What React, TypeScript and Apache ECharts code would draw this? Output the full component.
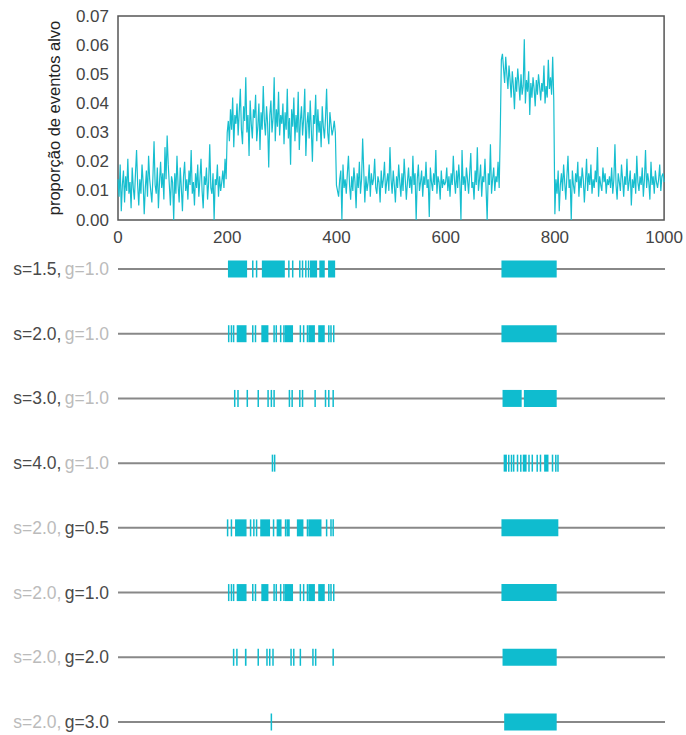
import React, { useEffect, useRef } from "react";
import * as echarts from "echarts";

// proportion of target events, in thousandths, one value every 2 steps
const baseline1 = [
  14,8,19,3,12,17,6,15,10,21, 9,13,4,18,11,7,16,24,12,5, 14,9,19,13,2,11,17,8,22,14, 10,6,15,27,12,9,18,4,13,20, 11,16,7,25,14,29,19,12,5,15,
  13,0,16,9,22,12,6,18,11,3, 15,20,10,14,7,17,12,24,9,13, 5,16,11,19,8,14,21,10,4,15, 12,18,7,13,26,11,9,16,0,14, 12,19,8,15,10,13,17,11,21,14,
];
const burst1 = [
  30,34,27,38,31,42,25,36,33,40, 29,37,45,31,26,39,34,49,30,36, 22,41,33,28,38,35,43,27,32,40, 24,37,31,46,34,29,39,33,18,36, 41,30,35,49,27,38,32,44,29,36,
  33,40,26,37,31,45,28,35,19,38, 32,42,27,36,30,44,24,34,39,29, 35,45,22,33,37,28,41,31,20,36, 33,43,27,38,30,34,25,39,32,28, 35,45,30,26,37,33,29,31,34,30,
];
const baseline2 = [
  12,10,8,14,17,0,19,11,14,9, 16,22,12,7,15,10,18,13,4,16, 11,20,9,14,28,17,6,15,10,13, 19,8,16,12,14,21,11,9,15,13, 6,17,11,14,20,9,13,16,10,25,
  14,9,17,12,6,15,11,19,13,8, 16,10,21,14,7,13,18,11,15,9, 22,12,16,0,14,19,10,13,17,8, 15,12,20,11,14,1,18,13,10,16, 12,24,9,15,13,7,17,11,14,12,
  13,18,10,15,8,16,12,22,14,9, 17,11,19,13,0,24,12,15,10,18, 14,9,16,23,11,13,7,17,12,25, 10,14,19,8,15,13,21,11,0,16, 12,26,9,14,18,10,15,13,20,11,
];
const burst2 = [
  30,55,57,52,47,56,50,45,53,48, 42,51,46,38,49,44,52,47,41,50, 43,46,62,40,48,44,51,36,47,42, 49,45,39,48,43,50,46,41,47,44, 53,40,46,42,55,45,49,43,56,41,
];
const baseline3 = [
  2,14,9,17,3,12,16,10,19,13, 7,15,22,11,14,0,17,12,9,16, 13,20,8,15,11,18,14,6,13,21, 10,16,12,19,9,14,11,17,13,25, 8,15,12,10,18,13,16,9,14,12,
  15,11,18,9,14,26,12,7,16,13, 10,19,14,8,15,12,21,10,13,17, 5,14,11,16,9,22,13,10,15,12, 18,8,14,24,11,16,13,7,20,12, 15,9,17,13,11,14,19,10,15,16, 13,
];

const yTicks = [0, 0.01, 0.02, 0.03, 0.04, 0.05, 0.06, 0.07];
const xTicks = [0, 200, 400, 600, 800, 1000];

// row labels
const sLabels = ["s=1.5", "s=2.0", "s=3.0", "s=4.0", "s=2.0", "s=2.0", "s=2.0", "s=2.0"];
const gLabels = ["g=1.0", "g=1.0", "g=1.0", "g=1.0", "g=0.5", "g=1.0", "g=2.0", "g=3.0"];

// detected burst intervals [start, end] per row
const row0 = [[201,236],[245,246],[252,253],[263,305],[311,313],[318,320],[331,332],[336,337],[342,343],[347,348],[351,364],[368,378],[384,397],[701,802]];
const row1 = [[201,202],[206,207],[210,212],[217,235],[245,246],[250,251],[262,275],[284,285],[288,290],[296,297],[302,303],[305,320],[332,333],[338,339],[345,346],[348,360],[366,378],[384,385],[388,389],[393,394],[701,802]];
const row2 = [[212,213],[218,219],[235,236],[255,256],[273,274],[279,280],[284,285],[312,314],[317,319],[331,332],[336,337],[359,360],[378,379],[384,385],[392,393],[703,738],[742,802]];
const row3 = [[281,282],[285,286],[705,711],[713,714],[718,719],[722,724],[729,730],[735,736],[740,747],[750,751],[756,757],[765,766],[771,772],[779,787],[793,794],[799,800],[803,804]];
const row4 = [[199,200],[206,207],[214,235],[241,242],[247,248],[252,253],[260,278],[283,284],[290,299],[305,306],[308,314],[327,339],[345,346],[348,372],[380,381],[388,389],[392,393],[701,805]];
const row5 = [[201,202],[206,207],[210,212],[217,235],[245,246],[250,251],[262,275],[284,285],[288,290],[296,297],[302,303],[305,320],[332,333],[338,339],[345,346],[348,360],[366,378],[384,385],[388,389],[393,394],[701,802]];
const row6 = [[210,212],[216,218],[232,235],[255,256],[271,272],[276,277],[282,283],[315,316],[320,321],[332,333],[355,356],[360,361],[392,394],[703,802]];
const row7 = [[279,280],[706,802]];

const rows = [row0, row1, row2, row3, row4, row5, row6, row7];

const FONT = "'Liberation Sans', Arial, sans-serif";
const CYAN = "#17becf";
const BAR = "#0fbccf";

export default function App() {
  const ref = useRef<HTMLDivElement>(null);
  useEffect(() => {
    if (!ref.current) return;
    const chart = echarts.init(ref.current, null, { renderer: "svg" });
    const signal = [...baseline1, ...burst1, ...baseline2, ...burst2, ...baseline3];
    const lineData = signal.map((v, i) => [i * 2, v / 1000]);
    const segData: number[][] = [];
    rows.forEach((r, ri) => r.forEach(([s, e]) => segData.push([ri, s, e])));
    const rowData = rows.map((_, ri) => [ri]);

    chart.setOption({
      animation: false,
      backgroundColor: "#fff",
      grid: [
        { left: 118, right: 21, top: 16, height: 204, show: true, borderColor: "#555", borderWidth: 1.5, backgroundColor: "transparent" },
        { left: 118, right: 21, top: 269, height: 453 },
      ],
      xAxis: [
        {
          gridIndex: 0, type: "value", min: xTicks[0], max: xTicks[xTicks.length - 1], interval: 200,
          axisLine: { show: false }, axisTick: { show: false }, splitLine: { show: false },
          axisLabel: { color: "#444", fontSize: 17, fontFamily: FONT, margin: 9, formatter: (v: number) => String(v) },
        },
        {
          gridIndex: 1, type: "value", min: 0, max: 1000, show: false,
        },
      ],
      yAxis: [
        {
          gridIndex: 0, type: "value", min: yTicks[0], max: yTicks[yTicks.length - 1], interval: 0.01,
          axisLine: { show: false }, axisTick: { show: false }, splitLine: { show: false },
          axisLabel: { color: "#444", fontSize: 17, fontFamily: FONT, margin: 9, formatter: (v: number) => v.toFixed(2) },
          name: "proporção de eventos alvo", nameLocation: "middle", nameGap: 56, nameRotate: 90,
          nameTextStyle: { color: "#222", fontSize: 16.5, fontFamily: FONT },
        },
        {
          gridIndex: 1, type: "value", min: 0, max: 7, interval: 1, inverse: true,
          axisLine: { show: false }, axisTick: { show: false }, splitLine: { show: false },
          axisLabel: {
            margin: 9,
            formatter: (v: number) => {
              const i = Math.round(v);
              const sStyle = i < 4 ? "d" : "l";
              const gStyle = i < 4 ? "l" : "d";
              return `{${sStyle}|${sLabels[i]},} {${gStyle}|${gLabels[i]}}`;
            },
            rich: {
              d: { color: "#4a4a4a", fontSize: 17.5, fontFamily: FONT },
              l: { color: "#bbb", fontSize: 17.5, fontFamily: FONT },
            },
          },
        },
      ],
      series: [
        {
          type: "line", xAxisIndex: 0, yAxisIndex: 0, data: lineData, showSymbol: false,
          lineStyle: { color: CYAN, width: 1.2 }, itemStyle: { color: CYAN },
        },
        {
          type: "custom", xAxisIndex: 1, yAxisIndex: 1, data: rowData, z: 1,
          encode: { y: 0 },
          renderItem: (_p: any, api: any) => {
            const r = api.value(0);
            const a = api.coord([0, r]);
            const b = api.coord([1000, r]);
            return { type: "line", shape: { x1: a[0], y1: a[1], x2: b[0], y2: b[1] }, style: { stroke: "#888", lineWidth: 2 } };
          },
        },
        {
          type: "custom", xAxisIndex: 1, yAxisIndex: 1, data: segData, z: 2,
          encode: { y: 0, x: [1, 2] },
          renderItem: (_p: any, api: any) => {
            const r = api.value(0);
            const p1 = api.coord([api.value(1), r]);
            const p2 = api.coord([api.value(2), r]);
            const w = Math.max(p2[0] - p1[0], 1.5);
            return { type: "rect", shape: { x: p1[0], y: p1[1] - 8.5, width: w, height: 17 }, style: { fill: BAR } };
          },
        },
      ],
    });
    return () => chart.dispose();
  }, []);
  return <div ref={ref} style={{ position: "fixed", left: 0, top: 0, width: 686, height: 735 }} />;
}
